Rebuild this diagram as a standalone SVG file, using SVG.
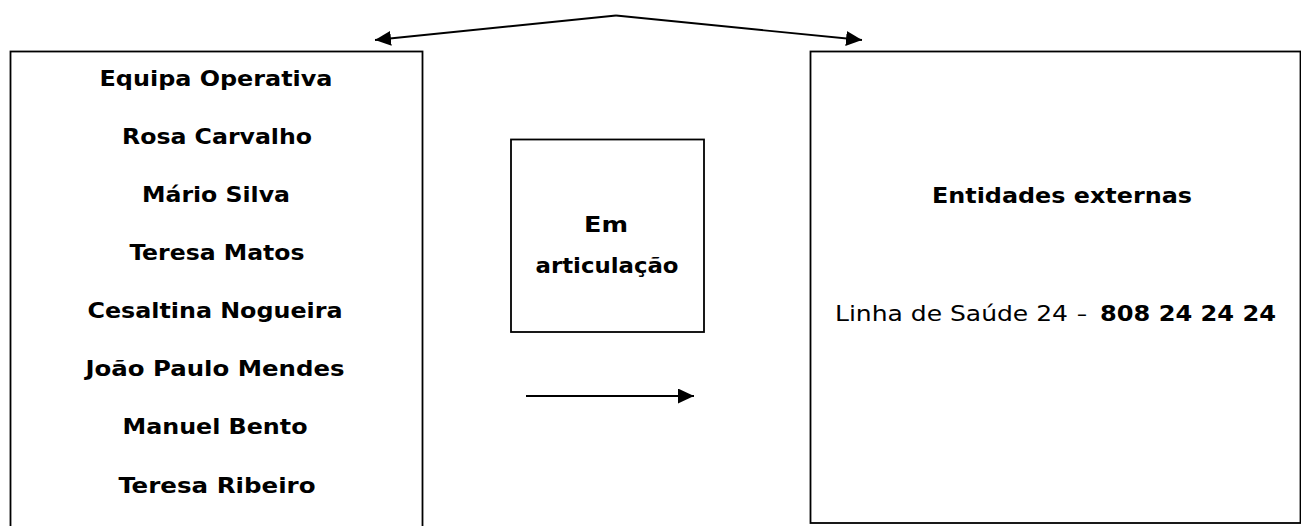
<svg xmlns="http://www.w3.org/2000/svg" width="1301" height="526" viewBox="0 0 1301 526">
<defs>
<style>
.box{fill:#fff;stroke:#000;stroke-width:1.8}
.t{font-family:"DejaVu Sans Condensed","DejaVu Sans","Liberation Sans",sans-serif;font-size:22px;fill:#000;text-anchor:middle}
.b{font-weight:bold}
.n{font-weight:normal}
.c{fill:none;stroke:#000;stroke-width:1.8}
</style>
<marker id="ah2" viewBox="0 0 16 15" refX="16" refY="7.5" markerWidth="16" markerHeight="15" markerUnits="userSpaceOnUse" orient="auto">
<path d="M0,0 L16,7.5 L0,15 Z" fill="#000"/>
</marker>
</defs>
<rect width="1301" height="526" fill="#fff"/>
<g id="equipa">
<rect class="box" x="10.5" y="51.5" width="412" height="490"/>
<text class="t b" x="216" y="86" textLength="233" lengthAdjust="spacingAndGlyphs">Equipa Operativa</text>
<text class="t b" x="217" y="144" textLength="190" lengthAdjust="spacingAndGlyphs">Rosa Carvalho</text>
<text class="t b" x="216" y="202" textLength="148" lengthAdjust="spacingAndGlyphs">Mário Silva</text>
<text class="t b" x="217" y="260" textLength="175" lengthAdjust="spacingAndGlyphs">Teresa Matos</text>
<text class="t b" x="215" y="318" textLength="255" lengthAdjust="spacingAndGlyphs">Cesaltina Nogueira</text>
<text class="t b" x="215" y="376" textLength="259" lengthAdjust="spacingAndGlyphs">João Paulo Mendes</text>
<text class="t b" x="215" y="434" textLength="185" lengthAdjust="spacingAndGlyphs">Manuel Bento</text>
<text class="t b" x="217" y="493" textLength="197" lengthAdjust="spacingAndGlyphs">Teresa Ribeiro</text>
</g>
<g id="articulacao">
<rect class="box" x="511" y="139.5" width="193" height="192.5"/>
<text class="t b" x="606" y="232" textLength="44" lengthAdjust="spacingAndGlyphs">Em</text>
<text class="t b" x="607" y="273" textLength="143" lengthAdjust="spacingAndGlyphs">articulação</text>
</g>
<g id="entidades">
<rect class="box" x="810.5" y="51.5" width="490" height="471.5"/>
<text class="t b" x="1062" y="203" textLength="260" lengthAdjust="spacingAndGlyphs">Entidades externas</text>
<text class="t" x="835" y="321" style="text-anchor:start"><tspan class="n" textLength="233" lengthAdjust="spacingAndGlyphs">Linha de Saúde 24</tspan><tspan class="n" x="1077">–</tspan><tspan class="b" x="1100" textLength="176" lengthAdjust="spacingAndGlyphs">808 24 24 24</tspan></text>
</g>
<g id="connectors">
<polyline class="c" points="616,15.5 375,40" marker-end="url(#ah2)"/>
<polyline class="c" points="616,15.5 862,40" marker-end="url(#ah2)"/>
<line class="c" x1="526" y1="396" x2="694" y2="396" marker-end="url(#ah2)"/>
</g>
</svg>
